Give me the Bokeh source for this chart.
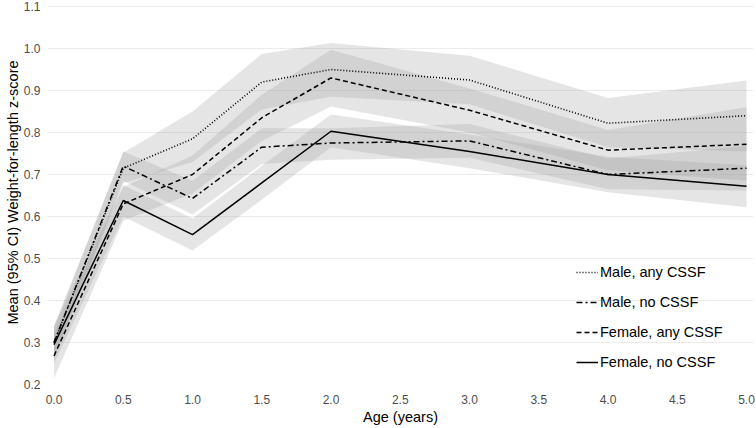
from bokeh.plotting import figure
from bokeh.models import Range1d, FixedTicker, Legend, LegendItem, PrintfTickFormatter
from bokeh.embed import file_html
from bokeh.resources import INLINE

ages = [0, 0.5, 1, 1.5, 2, 3, 4, 5]

male_any = [0.30, 0.715, 0.785, 0.92, 0.95, 0.925, 0.822, 0.84]
male_any_lo = [0.26, 0.68, 0.73, 0.855, 0.885, 0.867, 0.765, 0.755]
male_any_hi = [0.34, 0.752, 0.85, 0.987, 1.013, 0.983, 0.882, 0.924]

male_no = [0.30, 0.72, 0.643, 0.765, 0.775, 0.78, 0.70, 0.715]
male_no_lo = [0.265, 0.685, 0.605, 0.725, 0.735, 0.74, 0.665, 0.662]
male_no_hi = [0.335, 0.755, 0.685, 0.81, 0.81, 0.82, 0.738, 0.768]

fem_any = [0.268, 0.63, 0.70, 0.835, 0.93, 0.853, 0.758, 0.772]
fem_any_lo = [0.215, 0.59, 0.655, 0.78, 0.862, 0.80, 0.71, 0.685]
fem_any_hi = [0.32, 0.67, 0.745, 0.89, 0.997, 0.905, 0.806, 0.86]

fem_no = [0.295, 0.638, 0.557, 0.68, 0.803, 0.755, 0.70, 0.672]
fem_no_lo = [0.25, 0.60, 0.519, 0.64, 0.765, 0.715, 0.658, 0.622]
fem_no_hi = [0.34, 0.675, 0.595, 0.72, 0.843, 0.795, 0.742, 0.722]

labels = ["Male, any CSSF", "Male, no CSSF", "Female, any CSSF", "Female, no CSSF"]
x_ticks = [0, 0.5, 1, 1.5, 2, 2.5, 3, 3.5, 4, 4.5, 5]
y_ticks = [0.2, 0.3, 0.4, 0.5, 0.6, 0.7, 0.8, 0.9, 1.0, 1.1]

FONT = "Liberation Sans"

p = figure(width=756, height=428, output_backend="svg", toolbar_location=None,
           x_range=Range1d(-0.047, 5.0505), y_range=Range1d(0.2, 1.1143),
           min_border_left=47, min_border_right=3, min_border_top=0, min_border_bottom=44)
p.outline_line_color = None
p.background_fill_color = "white"
p.xgrid.grid_line_color = None
p.ygrid.grid_line_color = "#ebebeb"
p.ygrid.grid_line_width = 1

for ax in (p.xaxis[0], p.yaxis[0]):
    ax.axis_line_color = None
    ax.major_tick_line_color = None
    ax.minor_tick_line_color = None
    ax.major_tick_out = 0
    ax.major_tick_in = 0
    ax.minor_tick_out = 0
    ax.minor_tick_in = 0
    ax.major_label_text_font = FONT
    ax.major_label_text_font_size = "12px"
    ax.major_label_text_color = "#4d4d4d"
    ax.axis_label_text_font = FONT
    ax.axis_label_text_font_size = "14.5px"
    ax.axis_label_text_font_style = "normal"
    ax.axis_label_text_color = "black"
    ax.formatter = PrintfTickFormatter(format="%.1f")

p.xaxis.ticker = FixedTicker(ticks=x_ticks)
p.yaxis.ticker = FixedTicker(ticks=y_ticks)
p.yaxis.major_label_standoff = 7
p.yaxis.axis_label_standoff = 0
p.xaxis.major_label_standoff = 10
p.xaxis.axis_label_standoff = 2
p.xaxis.axis_label = "Age (years)"
p.yaxis.axis_label = "Mean (95% CI) Weight-for-length z-score"

bands = [(male_any_lo, male_any_hi), (male_no_lo, male_no_hi),
         (fem_any_lo, fem_any_hi), (fem_no_lo, fem_no_hi)]
for lo, hi in bands:
    p.varea(x=ages, y1=lo, y2=hi, fill_color="#a0a0a0", fill_alpha=0.28)

series = [male_any, male_no, fem_any, fem_no]
dashes = ["1 2", "6 3 2 3", "5 3", "solid"]
widths = [1.6, 1.5, 1.5, 1.5]
renderers = []
for ys, d, w in zip(series, dashes, widths):
    r = p.line(x=ages, y=ys, line_color="black", line_width=w, line_dash=d)
    renderers.append(r)

legend = Legend(items=[LegendItem(label=l, renderers=[r]) for l, r in zip(labels, renderers)],
                location=(529, 12), orientation="vertical",
                glyph_width=22, glyph_height=20, label_height=20, spacing=10,
                label_standoff=2, padding=0, margin=0,
                label_text_font=FONT, label_text_font_size="14.5px", label_text_color="black",
                border_line_color=None, background_fill_alpha=0)
p.add_layout(legend, "center")

open("out.html", "w").write(file_html(p, INLINE))
